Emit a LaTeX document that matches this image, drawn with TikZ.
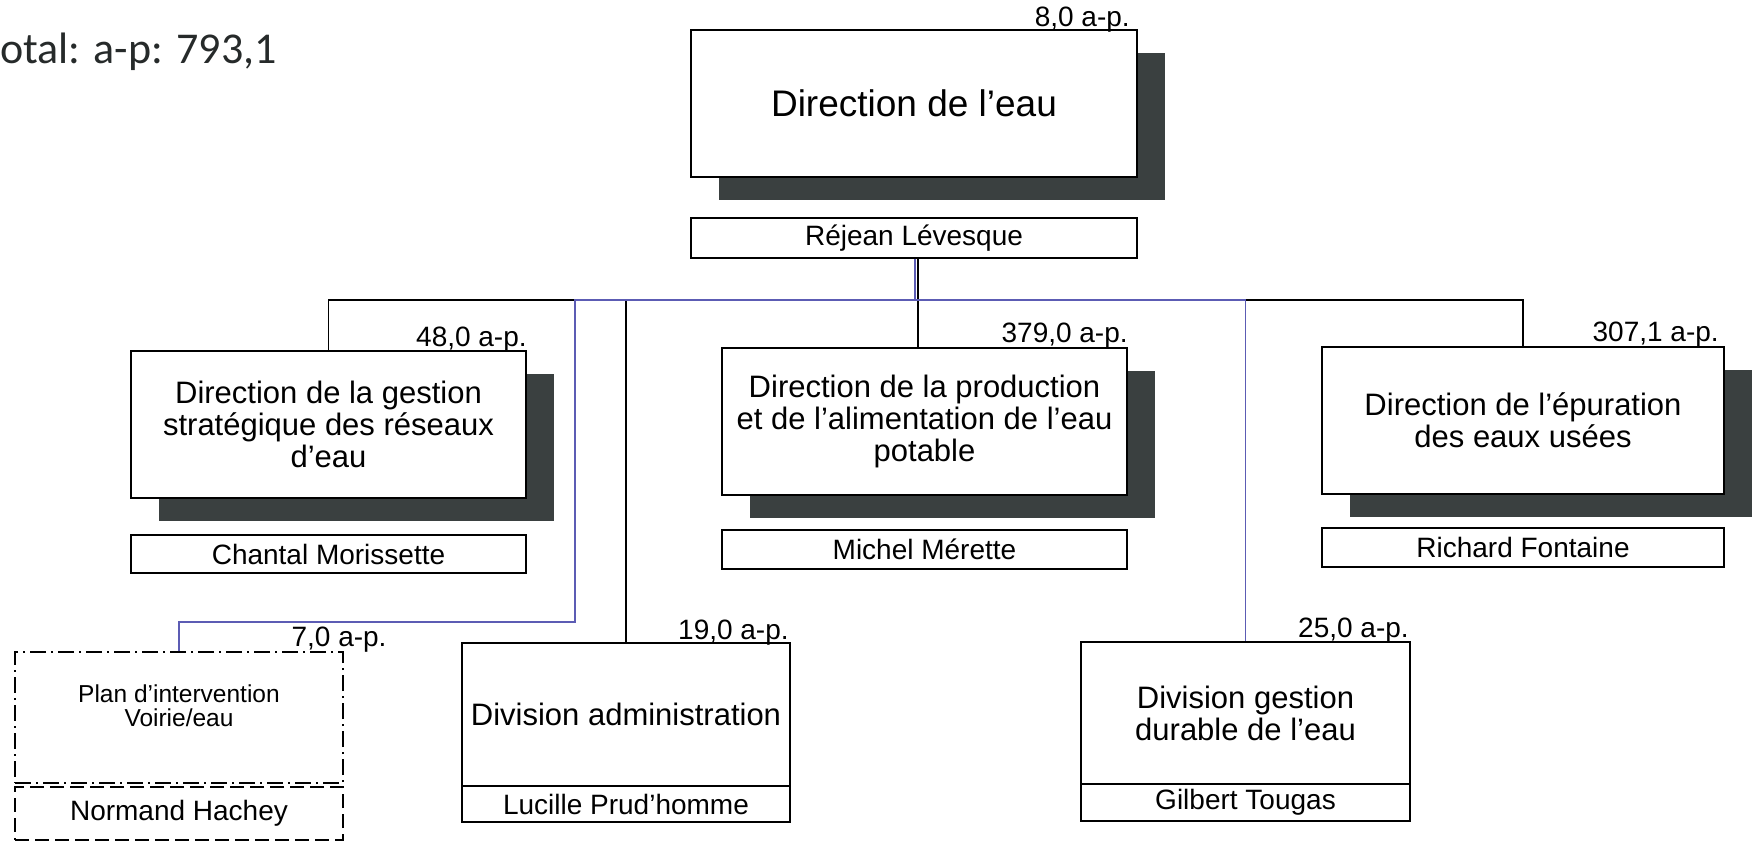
\documentclass[tikz,border=0pt]{standalone}
\usepackage{fontspec}
\setmainfont{Liberation Sans}
\newfontfamily\totalfont{Carlito}
\usepackage{xcolor}
\usetikzlibrary{shadows}
\definecolor{shadowgray}{RGB}{58,64,64}
\definecolor{linkblue}{RGB}{92,92,180}
\definecolor{inkgray}{RGB}{38,42,42}

\begin{document}
\begin{tikzpicture}[x=1pt,y=-1pt,
  unit/.style={draw,rectangle,line width=1.8pt,fill=white,inner sep=0pt,align=center,minimum height=147pt,
    general shadow={fill=shadowgray,shadow xshift=28pt,shadow yshift=-23pt},font=\fontsize{31}{32}\selectfont},
  division/.style={draw,rectangle,line width=1.8pt,fill=white,inner sep=0pt,align=center,font=\fontsize{31}{32}\selectfont},
  manager/.style={draw,rectangle,line width=1.8pt,fill=white,inner sep=0pt,font=\fontsize{28}{30}\selectfont},
  aplabel/.style={inner sep=0pt,anchor=base east,font=\fontsize{28}{30}\selectfont},
  orgline/.style={line width=1.8pt},
  bluelink/.style={draw=linkblue,line width=1.4pt}]
\useasboundingbox (0,0) rectangle (1752,841);

\node[anchor=base west,inner sep=0pt,text=inkgray,font=\totalfont\fontsize{44}{48}\selectfont] (total) at (0,63) {otal: a-p: 793,1};

% direction
\node[unit,minimum width=446pt,font=\fontsize{37}{40}\selectfont] (dir) at (914,103.5) {Direction de l’eau};
\node[manager,minimum width=446pt,minimum height=40pt] (rejean) at (914,238) {Réjean Lévesque};
\node[aplabel] (apdir) at ([xshift=-8pt,yshift=3pt]dir.north east) {8,0 a-p.};

% directions
\node[unit,minimum width=395pt] (dgs) at (328.5,424.5) {Direction de la gestion\\stratégique des réseaux\\d’eau};
\node[manager,minimum width=395pt,minimum height=38pt] (chantal) at (328.5,554) {Chantal Morissette};
\node[aplabel] (apdgs) at ([yshift=4pt]dgs.north east) {48,0 a-p.};

\node[unit,minimum width=405pt] (dpa) at (924.5,421.5) {Direction de la production\\et de l’alimentation de l’eau\\potable};
\node[manager,minimum width=405pt,minimum height=39pt] (michel) at (924.5,549.5) {Michel Mérette};
\node[aplabel] (apdpa) at ([yshift=5pt]dpa.north east) {379,0 a-p.};

\node[unit,minimum width=402pt] (deu) at (1523,420.5) {Direction de l’épuration\\des eaux usées};
\node[manager,minimum width=402pt,minimum height=39pt] (richard) at (1523,547.5) {Richard Fontaine};
\node[aplabel] (apdeu) at ([xshift=-6pt,yshift=5pt]deu.north east) {307,1 a-p.};

% divisions
\node[division,minimum width=328pt,minimum height=143pt] (dadm) at (626,714.5) {Division administration};
\node[manager,minimum width=328pt,minimum height=36pt] (lucille) at (626,804) {Lucille Prud’homme};
\node[aplabel] (apdadm) at ([xshift=-2pt,yshift=3pt]dadm.north east) {19,0 a-p.};

\node[division,minimum width=329pt,minimum height=142pt] (dgd) at (1245.5,713) {Division gestion\\durable de l’eau};
\node[manager,minimum width=329pt,minimum height=37pt] (gilbert) at (1245.5,802.5) {Gilbert Tougas};
\node[aplabel] (apdgd) at ([xshift=-2pt,yshift=4pt]dgd.north east) {25,0 a-p.};

% plan (pointilles)
\node[draw,line width=1.5pt,dash pattern=on 16pt off 5pt on 2pt off 5pt,minimum width=328pt,minimum height=131pt,inner sep=0pt,align=center,font=\fontsize{24.5}{23.5}\selectfont] (plan) at (179,717.5) {Plan d’intervention\\Voirie/eau\\\mbox{}};
\node[draw,line width=1.5pt,dash pattern=on 14pt off 6pt,minimum width=328pt,minimum height=53pt,inner sep=0pt,font=\fontsize{28}{30}\selectfont] (normand) at (179,813.5) {Normand Hachey};
\node[aplabel] (applan) at ([xshift=43pt,yshift=5pt]plan.north east) {7,0 a-p.};

% liens
\coordinate (bus) at (0,300);
\coordinate (bend) at (575,622);
\draw[orgline] (dgs.north) -- (dgs.north |- bus) -- (deu.north |- bus) -- (deu.north);
\draw[orgline] ([xshift=4pt]rejean.south) -- ([xshift=4pt]rejean.south |- dpa.north);
\draw[orgline] (dadm.north) -- (dadm.north |- bus);
\draw[bluelink] ([xshift=1pt]rejean.south) -- ([xshift=1pt]rejean.south |- bus);
\draw[bluelink] (plan.north) -- (plan.north |- bend) -- (bend) -- (bend |- bus) -- (dgd.north |- bus) -- (dgd.north);
\end{tikzpicture}
\end{document}
